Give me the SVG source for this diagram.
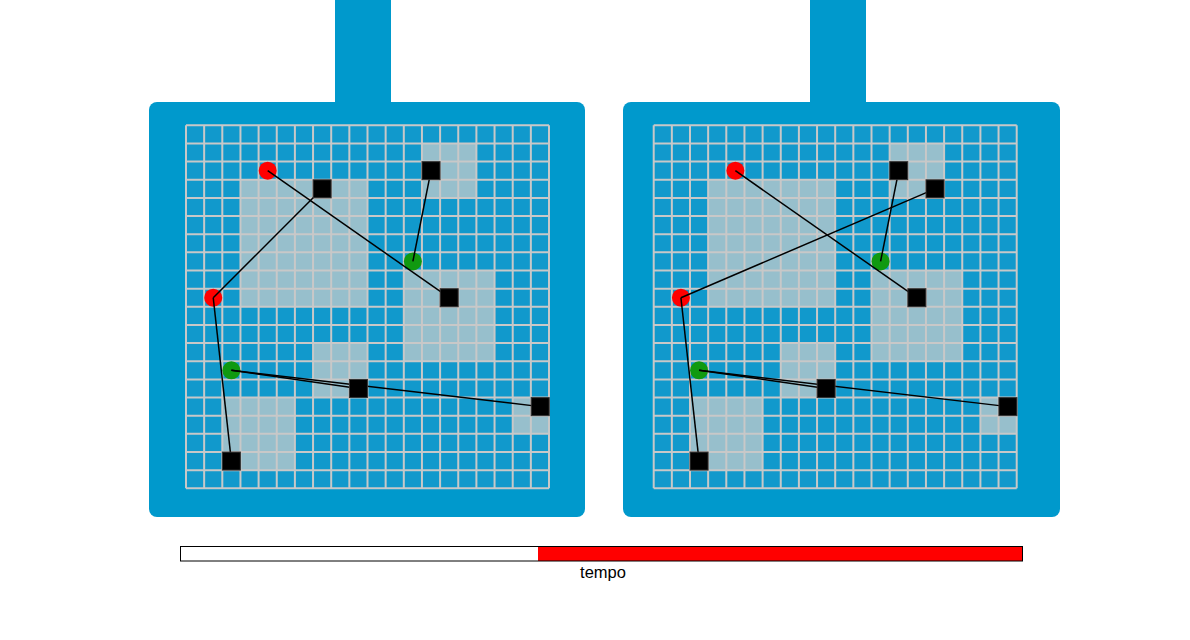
<svg xmlns="http://www.w3.org/2000/svg" xmlns:xlink="http://www.w3.org/1999/xlink" width="1190" height="640" viewBox="0 0 1190 640">
<style>
.panel{fill:#0099cc}
.cellbg{fill:#1199cc}
.blk{fill:#97bfcc}
.gl{stroke:#c8c8c8;stroke-width:2;fill:none}
.red{fill:#ff0000}
.grn{fill:#109910}
.sq{fill:#000000;stroke:#333333;stroke-width:1}
.edge{stroke:#000000;stroke-width:1.5;fill:none}
.lbl{font-family:"Liberation Sans",Arial,sans-serif;font-size:16.5px;fill:#000000}
</style>
<defs>
<g id="board">
<rect class="cellbg" x="0" y="0" width="363" height="363"/>
<rect class="blk" x="54.45" y="54.45" width="127.05" height="127.05"/>
<rect class="blk" x="235.95" y="18.15" width="54.45" height="54.45"/>
<rect class="blk" x="217.8" y="145.2" width="90.75" height="90.75"/>
<rect class="blk" x="127.05" y="217.8" width="54.45" height="54.45"/>
<rect class="blk" x="36.3" y="272.25" width="72.6" height="72.6"/>
<rect class="blk" x="326.7" y="272.25" width="36.3" height="36.3"/>
<path class="gl" d="M0 0V363M18.15 0V363M36.3 0V363M54.45 0V363M72.6 0V363M90.75 0V363M108.9 0V363M127.05 0V363M145.2 0V363M163.35 0V363M181.5 0V363M199.65 0V363M217.8 0V363M235.95 0V363M254.1 0V363M272.25 0V363M290.4 0V363M308.55 0V363M326.7 0V363M344.85 0V363M363 0V363M0 0H363M0 18.15H363M0 36.3H363M0 54.45H363M0 72.6H363M0 90.75H363M0 108.9H363M0 127.05H363M0 145.2H363M0 163.35H363M0 181.5H363M0 199.65H363M0 217.8H363M0 235.95H363M0 254.1H363M0 272.25H363M0 290.4H363M0 308.55H363M0 326.7H363M0 344.85H363M0 363H363"/>
</g>
</defs>
<rect width="1190" height="640" fill="#ffffff"/>

<g id="panel-left">
<rect class="panel" x="335" y="0" width="56" height="110"/>
<rect class="panel" x="149" y="102" width="436" height="415" rx="8"/>
<use xlink:href="#board" href="#board" transform="translate(186,125.3)"/>
</g>
<g id="panel-right">
<rect class="panel" x="810" y="0" width="56" height="110"/>
<rect class="panel" x="623" y="102" width="437" height="415" rx="8"/>
<use xlink:href="#board" href="#board" transform="translate(653.7,125.3)"/>
</g>

<g id="nodes-left" transform="translate(186,125.3)">
<g id="L-red1"><circle class="red" cx="81.675" cy="45.375" r="9"/></g>
<g id="L-red2"><circle class="red" cx="27.225" cy="172.425" r="9"/></g>
<g id="L-green1"><circle class="grn" cx="226.875" cy="136.125" r="9"/></g>
<g id="L-green2"><circle class="grn" cx="45.375" cy="245.025" r="9"/></g>
</g>
<g id="nodes-right" transform="translate(653.7,125.3)">
<g id="R-red1"><circle class="red" cx="81.675" cy="45.375" r="9"/></g>
<g id="R-red2"><circle class="red" cx="27.225" cy="172.425" r="9"/></g>
<g id="R-green1"><circle class="grn" cx="226.875" cy="136.125" r="9"/></g>
<g id="R-green2"><circle class="grn" cx="45.375" cy="245.025" r="9"/></g>
</g>

<g id="connectors">
<g transform="translate(186,125.3)">
<line class="edge" x1="81.675" y1="45.375" x2="263.175" y2="172.425"/>
<line class="edge" x1="136.125" y1="63.525" x2="27.225" y2="172.425"/>
<line class="edge" x1="245.025" y1="45.375" x2="226.875" y2="136.125"/>
<line class="edge" x1="27.225" y1="172.425" x2="45.375" y2="335.775"/>
<line class="edge" x1="45.375" y1="245.025" x2="172.425" y2="263.175"/>
<line class="edge" x1="45.375" y1="245.025" x2="354.225" y2="281.325"/>
</g>
<g transform="translate(653.7,125.3)">
<line class="edge" x1="81.675" y1="45.375" x2="263.175" y2="172.425"/>
<line class="edge" x1="281.325" y1="63.525" x2="27.225" y2="172.425"/>
<line class="edge" x1="245.025" y1="45.375" x2="226.875" y2="136.125"/>
<line class="edge" x1="27.225" y1="172.425" x2="45.375" y2="335.775"/>
<line class="edge" x1="45.375" y1="245.025" x2="172.425" y2="263.175"/>
<line class="edge" x1="45.375" y1="245.025" x2="354.225" y2="281.325"/>
</g>
</g>

<g id="squares-left" transform="translate(186,125.3)">
<g id="L-sq1"><rect class="sq" x="127.125" y="54.525" width="18" height="18"/></g>
<g id="L-sq2"><rect class="sq" x="236.025" y="36.375" width="18" height="18"/></g>
<g id="L-sq3"><rect class="sq" x="254.175" y="163.425" width="18" height="18"/></g>
<g id="L-sq4"><rect class="sq" x="163.425" y="254.175" width="18" height="18"/></g>
<g id="L-sq5"><rect class="sq" x="345.225" y="272.325" width="18" height="18"/></g>
<g id="L-sq6"><rect class="sq" x="36.375" y="326.775" width="18" height="18"/></g>
</g>
<g id="squares-right" transform="translate(653.7,125.3)">
<g id="R-sq1"><rect class="sq" x="272.325" y="54.525" width="18" height="18"/></g>
<g id="R-sq2"><rect class="sq" x="236.025" y="36.375" width="18" height="18"/></g>
<g id="R-sq3"><rect class="sq" x="254.175" y="163.425" width="18" height="18"/></g>
<g id="R-sq4"><rect class="sq" x="163.425" y="254.175" width="18" height="18"/></g>
<g id="R-sq5"><rect class="sq" x="345.225" y="272.325" width="18" height="18"/></g>
<g id="R-sq6"><rect class="sq" x="36.375" y="326.775" width="18" height="18"/></g>
</g>

<g id="timeline">
<rect x="180.5" y="546.5" width="842" height="14.5" fill="#ffffff" stroke="none"/>
<rect x="538" y="546.5" width="484.5" height="14.5" fill="#ff0000" stroke="none"/>
<rect x="180.5" y="546.5" width="842" height="14.5" fill="none" stroke="#000000" stroke-width="1"/>
<text class="lbl" x="603" y="578" text-anchor="middle">tempo</text>
</g>
</svg>
